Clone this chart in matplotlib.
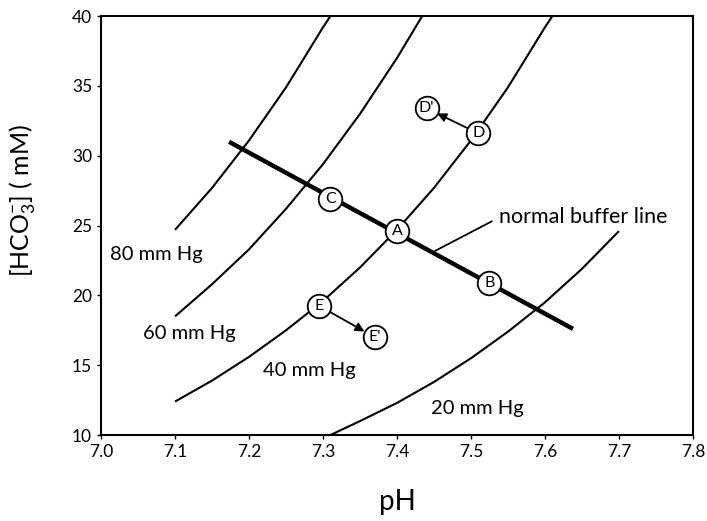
import numpy as np
import matplotlib.pyplot as plt

plt.rcParams['font.family'] = ['Lato', 'DejaVu Sans']
plt.rcParams['mathtext.fontset'] = 'custom'
plt.rcParams['mathtext.rm'] = 'Lato'
plt.rcParams['mathtext.it'] = 'Lato:italic'

# isobars (pH, HCO3 mM)
ph_80 = [7.10, 7.15, 7.20, 7.25, 7.30, 7.31]
hco3_80 = [24.7, 27.7, 31.1, 34.9, 39.2, 40.0]
ph_60 = [7.10, 7.15, 7.20, 7.25, 7.30, 7.35, 7.40, 7.434]
hco3_60 = [18.5, 20.8, 23.3, 26.2, 29.4, 33.0, 37.0, 40.0]
ph_40 = [7.10, 7.15, 7.20, 7.25, 7.30, 7.35, 7.40, 7.45, 7.50, 7.55, 7.60, 7.61]
hco3_40 = [12.4, 13.9, 15.6, 17.5, 19.6, 22.0, 24.7, 27.7, 31.1, 34.9, 39.2, 40.0]
ph_20 = [7.31, 7.35, 7.40, 7.45, 7.50, 7.55, 7.60, 7.65, 7.70]
hco3_20 = [10.0, 11.0, 12.3, 13.8, 15.5, 17.4, 19.5, 21.9, 24.6]

isobar_labels = ['80 mm Hg', '60 mm Hg', '40 mm Hg', '20 mm Hg']
label_pos = [(7.012, 22.9), (7.057, 17.3), (7.219, 14.6), (7.446, 11.9)]

# normal buffer line end points
buffer_ph = [7.173, 7.638]
buffer_hco3 = [31.0, 17.6]

# lettered states
pt_names = ['A', 'B', 'C', 'D', "D'", 'E', "E'"]
pt_ph = [7.40, 7.525, 7.31, 7.51, 7.44, 7.295, 7.37]
pt_hco3 = [24.6, 20.9, 26.9, 31.6, 33.4, 19.25, 17.0]

fig = plt.figure(figsize=(7.07, 5.21), dpi=100)
ax = fig.add_axes([0.143, 0.165, 0.837, 0.804])

for px, py in [(ph_80, hco3_80), (ph_60, hco3_60), (ph_40, hco3_40), (ph_20, hco3_20)]:
    ax.plot(px, py, color='black', lw=1.5, solid_capstyle='butt')
for lab, (lx, ly) in zip(isobar_labels, label_pos):
    ax.text(lx, ly, lab, fontsize=14.5, ha='left', va='center')

ax.plot(buffer_ph, buffer_hco3, color='black', lw=3.2, solid_capstyle='butt')
ax.plot([7.452, 7.528], [23.2, 25.3], color='black', lw=1.3)
ax.text(7.538, 25.6, 'normal buffer line', fontsize=15.5, ha='left', va='center')

# arrows D -> D', E -> E'
idx = {n: i for i, n in enumerate(pt_names)}
for a, b in [('D', "D'"), ('E', "E'")]:
    ax.annotate('', xy=(pt_ph[idx[b]], pt_hco3[idx[b]]),
                xytext=(pt_ph[idx[a]], pt_hco3[idx[a]]),
                arrowprops=dict(arrowstyle='-|>', color='black', lw=1.3,
                                mutation_scale=13, shrinkA=8.5, shrinkB=8.5),
                zorder=4)

ax.plot(pt_ph, pt_hco3, 'o', ms=17, mfc='white', mec='black', mew=1.3,
        ls='none', zorder=5)
for n, x, y in zip(pt_names, pt_ph, pt_hco3):
    ax.text(x, y, n, fontsize=11.5, ha='center', va='center', zorder=6)

ax.set_xlim(7.0, 7.8)
ax.set_ylim(10, 40)
ax.set_xticks(np.arange(7.0, 7.81, 0.1))
ax.set_xticklabels(['7.0', '7.1', '7.2', '7.3', '7.4', '7.5', '7.6', '7.7', '7.8'])
ax.set_yticks([10, 15, 20, 25, 30, 35, 40])
ax.tick_params(direction='out', length=3, width=1, labelsize=12.5)
for s in ax.spines.values():
    s.set_linewidth(1.5)

ax.set_xlabel('pH', fontsize=20)
ax.set_ylabel(r'[HCO$_3^{-}$] ( mM)', fontsize=18)
ax.xaxis.set_label_coords(0.5, -0.128)
ax.yaxis.set_label_coords(-0.107, 0.56)

fig.savefig('out.png', dpi=100)
